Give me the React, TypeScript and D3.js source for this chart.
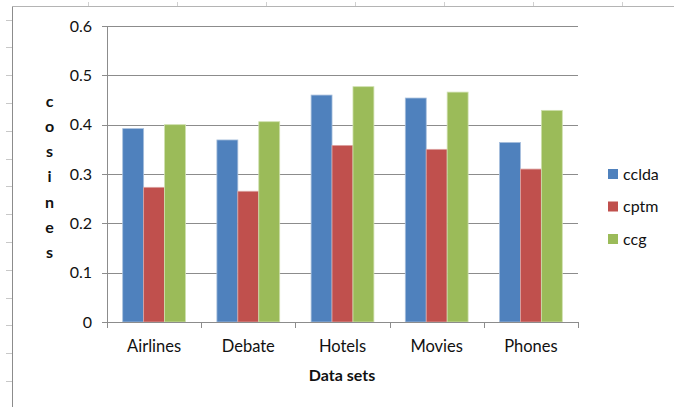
import React from "react";
import * as d3 from "d3";

const categories = ["Airlines", "Debate", "Hotels", "Movies", "Phones"];
const seriesNames = ["cclda", "cptm", "ccg"];
const cclda = [0.392, 0.369, 0.46, 0.454, 0.364];
const cptm = [0.273, 0.265, 0.358, 0.35, 0.31];
const ccg = [0.4, 0.406, 0.477, 0.466, 0.429];
const yTicks = [0, 0.1, 0.2, 0.3, 0.4, 0.5, 0.6];
const colors = ["#4F81BD", "#C0504D", "#9BBB59"];
const edgeColors = ["#a7bfdc", "#dca3a1", "#cfe0ae"];
const yTitleLetters = "cosines".split("");

const W = 674;
const H = 407;
const plot = { left: 107, right: 578, top: 26, bottom: 322 };
const font = "Lato, 'Open Sans', sans-serif";

export default function App() {
  const series = [cclda, cptm, ccg];
  const x0 = d3.scaleBand<string>().domain(categories).range([plot.left, plot.right]).paddingInner(0).paddingOuter(0);
  // 150% gap between clusters: bar width = band / 4.5
  const bw = x0.bandwidth() / 4.5;
  const y = d3.scaleLinear().domain([0, 0.6]).range([plot.bottom, plot.top]);
  const fmt = (v: number) => (v === 0 ? "0" : d3.format(".1f")(v));

  const topTicks = d3.range(88, W, 89);
  const leftTicks = d3.range(19.5, H, 27.8);
  const boundaries = categories.map((c) => x0(c) as number).concat([plot.right]);

  return (
    <svg width={W} height={H} style={{ position: "absolute", left: 0, top: 0, background: "#fff" }}>
      {/* worksheet frame */}
      <line x1={12.5} y1={6.5} x2={W} y2={6.5} stroke="#b4b4b4" />
      <line x1={12.5} y1={6.5} x2={12.5} y2={H} stroke="#8c8c8c" />
      {topTicks.map((t, i) => (
        <line key={"tt" + i} x1={t + 0.5} x2={t + 0.5} y1={2} y2={6} stroke="#d0d0d0" />
      ))}
      {leftTicks.map((t, i) => (
        <line key={"lt" + i} x1={6} x2={12} y1={Math.round(t) + 0.5} y2={Math.round(t) + 0.5} stroke="#c8c8c8" />
      ))}

      {/* gridlines and y ticks */}
      {yTicks.map((t) => (
        <g key={"g" + t}>
          {t > 0 && (
            <line x1={plot.left} x2={plot.right} y1={Math.round(y(t)) + 0.5} y2={Math.round(y(t)) + 0.5} stroke="#8c8c8c" />
          )}
          <line x1={plot.left - 5} x2={plot.left} y1={Math.round(y(t)) + 0.5} y2={Math.round(y(t)) + 0.5} stroke="#8c8c8c" />
          <text
            x={plot.left - 15}
            y={y(t)}
            dy="0.36em"
            textAnchor="end"
            fontFamily={font}
            fontSize={16}
            fill="#111"
          >
            {fmt(t)}
          </text>
        </g>
      ))}

      {/* bars */}
      {categories.map((c, ci) =>
        series.map((vals, si) => {
          const bx = (x0(c) as number) + bw * 0.75 + si * bw;
          return (
            <rect
              key={c + si}
              x={bx}
              y={y(vals[ci])}
              width={bw}
              height={plot.bottom - y(vals[ci])}
              fill={colors[si]}
              stroke={edgeColors[si]}
              strokeWidth={0.8}
            />
          );
        })
      )}

      {/* axes */}
      <line x1={plot.left + 0.5} x2={plot.left + 0.5} y1={plot.top} y2={plot.bottom} stroke="#8c8c8c" />
      <line x1={plot.left} x2={plot.right} y1={plot.bottom + 0.5} y2={plot.bottom + 0.5} stroke="#8c8c8c" />
      {boundaries.map((b, i) => (
        <line key={"xb" + i} x1={Math.round(b) + 0.5} x2={Math.round(b) + 0.5} y1={plot.bottom} y2={plot.bottom + 6} stroke="#8c8c8c" />
      ))}
      {categories.map((c) => (
        <text
          key={"xl" + c}
          x={(x0(c) as number) + x0.bandwidth() / 2}
          y={352}
          textAnchor="middle"
          fontFamily={font}
          fontSize={16.5}
          fill="#111"
        >
          {c}
        </text>
      ))}

      {/* axis titles */}
      <text x={342} y={381} textAnchor="middle" fontFamily={font} fontSize={16} fontWeight="bold" fill="#111">
        Data sets
      </text>
      {yTitleLetters.map((ch, i) => (
        <text
          key={"yt" + i}
          x={49.5}
          y={101 + i * 25.2}
          dy="0.36em"
          textAnchor="middle"
          fontFamily={font}
          fontSize={16}
          fontWeight="bold"
          fill="#111"
        >
          {ch}
        </text>
      ))}

      {/* legend */}
      {seriesNames.map((n, i) => (
        <g key={"lg" + n} transform={`translate(608, ${169 + i * 32.5})`}>
          <rect x={0} y={0} width={10} height={10} fill={colors[i]} />
          <text x={15} y={5} dy="0.36em" fontFamily={font} fontSize={16} fill="#111">
            {n}
          </text>
        </g>
      ))}
    </svg>
  );
}
